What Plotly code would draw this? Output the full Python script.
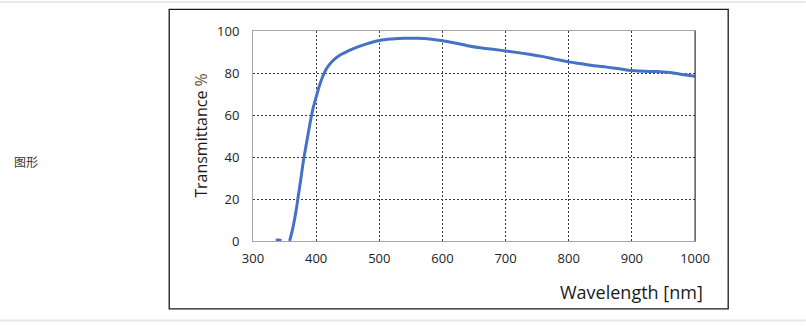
import plotly.graph_objects as go

# ---- data ----
wavelength = [336, 341, 345, None,
              358, 363, 368, 372, 376, 380, 385, 390, 395, 400, 405, 410, 415, 420,
              430, 440, 450, 465, 480, 500, 520, 540, 560, 580, 600, 620, 640, 660,
              680, 700, 720, 740, 760, 780, 800, 820, 840, 860, 880, 900, 920, 940,
              960, 980, 1000]
transmittance = [0.4, 0.5, 0.2, None,
                 0, 6, 14, 22, 30, 38.5, 47, 55.5, 63, 68.5, 73.8, 78, 81.3, 83.6,
                 86.8, 88.9, 90.4, 92.3, 93.9, 95.5, 96.2, 96.5, 96.5, 96.2, 95.4, 94.3, 93, 92,
                 91.3, 90.5, 89.7, 88.8, 87.8, 86.5, 85.3, 84.4, 83.5, 82.8, 82, 81.2, 80.8, 80.7,
                 80.2, 79.3, 78.4]
x_ticks = [300, 400, 500, 600, 700, 800, 900, 1000]
y_ticks = [0, 20, 40, 60, 80, 100]
x_title = "Wavelength [nm]"
y_title = "Transmittance"
side_label = "图形"

W, H = 806, 326
L, R, T, B = 253.3, 695.3, 31.0, 240.7


def px(x):
    return (x - L) / (R - L)


def py(y):
    return (B - y) / (B - T)


fig = go.Figure()
fig.add_trace(go.Scatter(
    x=wavelength, y=transmittance, mode="lines",
    line=dict(color="#4472C4", width=3, shape="spline", smoothing=1.0),
    connectgaps=False, hoverinfo="skip", showlegend=False,
))

font_family = "Open Sans, Noto Sans, sans-serif"
grid = dict(showgrid=True, gridcolor="#3a3a3a", gridwidth=1, griddash="2px,2px",
            showline=True, linecolor="#a6a6a6", linewidth=1, mirror=True,
            ticks="", zeroline=False,
            tickfont=dict(family=font_family, size=13, color="#222"))

fig.update_xaxes(range=[300, 1000], tickvals=x_ticks, ticklabelstandoff=5, **grid)
fig.update_yaxes(range=[0, 100], tickvals=y_ticks, ticklabelstandoff=10, **grid)

shapes = [
    # page separator lines
    dict(type="line", xref="paper", yref="paper", x0=px(0), x1=px(W), y0=py(2), y1=py(2),
         line=dict(color="#e8e8e8", width=2)),
    dict(type="line", xref="paper", yref="paper", x0=px(0), x1=px(W), y0=py(320), y1=py(320),
         line=dict(color="#e8e8e8", width=2)),
    # outer frame
    dict(type="rect", xref="paper", yref="paper", x0=px(169.5), x1=px(728.5),
         y0=py(308.5), y1=py(9.5), line=dict(color="#1a1a1a", width=1.3)),
    # dark right edge of plot area
    dict(type="line", xref="paper", yref="paper", x0=1, x1=1, y0=0, y1=1,
         line=dict(color="#333", width=1)),
]

annotations = [
    dict(text=x_title, xref="paper", yref="paper", x=px(705), y=py(292),
         xanchor="right", yanchor="middle", showarrow=False,
         font=dict(family=font_family, size=18, color="#1a1a1a")),
    dict(text=y_title + " <span style='color:#6b5a4a'>%</span>", xref="paper", yref="paper",
         x=px(201), y=py(135), xanchor="center", yanchor="middle", textangle=-90,
         showarrow=False, font=dict(family=font_family, size=16, color="#1a1a1a")),
    dict(text=side_label, xref="paper", yref="paper", x=px(12), y=py(161),
         xanchor="left", yanchor="middle", showarrow=False,
         font=dict(family="Noto Sans CJK SC", size=12, color="#333")),
]

fig.update_layout(
    width=W, height=H,
    margin=dict(l=L, r=W - R, t=T, b=H - B),
    paper_bgcolor="white", plot_bgcolor="white",
    shapes=shapes, annotations=annotations,
    font=dict(family=font_family),
)

fig.write_html("out.html", config={"displayModeBar": False})
